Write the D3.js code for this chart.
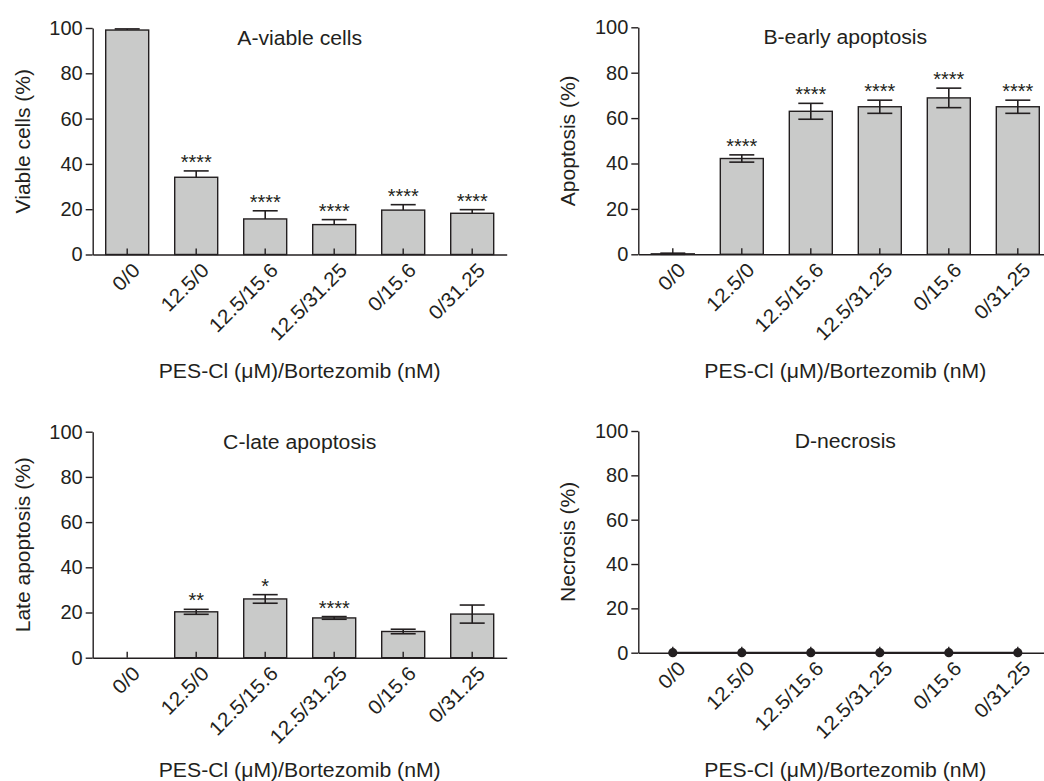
<!DOCTYPE html>
<html>
<head>
<meta charset="utf-8">
<script src="https://cdn.jsdelivr.net/npm/d3@7"></script>
<style>
  body { margin: 0; background: #fff; }
  text { font-family: "Liberation Sans", Arial, sans-serif; fill: #231f20; }
</style>
</head>
<body>
<div id="chart"></div>
<script>
// groups: PES-Cl (uM) / Bortezomib (nM)
const groups = ["0/0", "12.5/0", "12.5/15.6", "12.5/31.25", "0/15.6", "0/31.25"];
const yTicks = [0, 20, 40, 60, 80, 100];

const viableMean = [99.1, 34.1, 15.7, 13.2, 19.6, 18.2];
const viableSD = [0.5, 2.8, 3.6, 2.2, 2.4, 1.6];
const viableSig = ["", "****", "****", "****", "****", "****"];

const earlyMean = [0.2, 42.2, 63.0, 65.0, 68.9, 65.0];
const earlySD = [0.3, 1.6, 3.5, 2.9, 4.3, 2.9];
const earlySig = ["", "****", "****", "****", "****", "****"];

const lateMean = [0, 20.3, 26.0, 17.6, 11.6, 19.3];
const lateSD = [0, 1.1, 1.9, 0.6, 1.0, 4.0];
const lateSig = ["", "**", "*", "****", "", ""];

const necrosisMean = [0, 0, 0, 0, 0, 0];

const xTitle = "PES-Cl (μM)/Bortezomib (nM)";

const W = 1044, H = 781;
const ink = "#231f20";
const barFill = "#c9cac9";

const svg = d3.select("#chart").append("svg")
  .attr("width", W)
  .attr("height", H);

// panel layout (screen positions)
const panels = [
  { title: "A-viable cells", ylab: "Viable cells (%)", mean: viableMean, sd: viableSD, sig: viableSig,
    left: 92.7, top: 28, bottom: 254.5, xTitleY: 378, lowerErr: false, kind: "bar" },
  { title: "B-early apoptosis", ylab: "Apoptosis (%)", mean: earlyMean, sd: earlySD, sig: earlySig,
    left: 638.3, top: 27.3, bottom: 254.3, xTitleY: 378, lowerErr: true, kind: "bar" },
  { title: "C-late apoptosis", ylab: "Late apoptosis (%)", mean: lateMean, sd: lateSD, sig: lateSig,
    left: 92.7, top: 431.7, bottom: 657.7, xTitleY: 777, lowerErr: true, kind: "bar" },
  { title: "D-necrosis", ylab: "Necrosis (%)", mean: necrosisMean, sd: null, sig: null,
    left: 638.3, top: 431, bottom: 652.7, xTitleY: 777, lowerErr: false, kind: "dot" }
];

const plotW = 414;

panels.forEach(p => drawPanel(p));

// the original lettering is a bit wider than Arial, stretch labels slightly
function widen(sel, k) {
  sel.each(function() {
    const len = this.getComputedTextLength();
    d3.select(this).attr("textLength", len * k).attr("lengthAdjust", "spacingAndGlyphs");
  });
}

function drawPanel(p) {
  const x = d3.scaleBand()
    .domain(groups)
    .range([p.left, p.left + plotW])
    .paddingInner(0.377)
    .paddingOuter(0.1885);

  const y = d3.scaleLinear()
    .domain([0, 100])
    .range([p.bottom, p.top]);

  const g = svg.append("g");
  const rows = groups.map((k, i) => ({
    key: k, mean: p.mean[i], sd: p.sd ? p.sd[i] : 0, sig: p.sig ? p.sig[i] : ""
  }));

  if (p.kind === "bar") {
    g.selectAll(".bar")
      .data(rows.filter(d => d.mean > 0))
      .enter().append("rect")
      .attr("class", "bar")
      .attr("x", d => x(d.key))
      .attr("y", d => y(d.mean))
      .attr("width", x.bandwidth())
      .attr("height", d => y(0) - y(d.mean))
      .attr("fill", barFill)
      .attr("stroke", ink)
      .attr("stroke-width", 1.4);
  }

  // x axis, ticks pointing up into the plot
  const xAxis = g.append("g")
    .attr("transform", `translate(0,${p.bottom})`)
    .call(d3.axisBottom(x).tickSizeInner(-6).tickSizeOuter(0));
  xAxis.select(".domain").attr("stroke", ink).attr("stroke-width", 1.4);
  xAxis.selectAll(".tick line").attr("stroke", ink).attr("stroke-width", 1.4);
  xAxis.selectAll(".tick text")
    .attr("x", 0).attr("y", 0).attr("dy", 0)
    .attr("transform", "translate(14,17) rotate(-45)")
    .style("text-anchor", "end")
    .style("font-size", "20px")
    .attr("fill", ink)
    .call(widen, 1.05);

  // y axis
  const yAxis = g.append("g")
    .attr("transform", `translate(${p.left},0)`)
    .call(d3.axisLeft(y).tickValues(yTicks).tickSizeInner(7).tickSizeOuter(0).tickPadding(3));
  yAxis.select(".domain").attr("stroke", ink).attr("stroke-width", 1.4);
  yAxis.selectAll(".tick line").attr("stroke", ink).attr("stroke-width", 1.4);
  yAxis.selectAll(".tick text")
    .style("font-size", "20px")
    .attr("fill", ink);

  if (p.kind === "bar") {
    const cap = 12.5;
    const eb = g.selectAll(".err")
      .data(rows.filter(d => d.sd > 0))
      .enter().append("g")
      .attr("class", "err")
      .attr("stroke", ink)
      .attr("stroke-width", 1.6);
    const cx = d => x(d.key) + x.bandwidth() / 2;
    eb.append("line")
      .attr("x1", cx).attr("x2", cx)
      .attr("y1", d => y(p.lowerErr ? Math.max(d.mean - d.sd, 0) : d.mean))
      .attr("y2", d => y(d.mean + d.sd));
    eb.append("line")
      .attr("x1", d => cx(d) - cap).attr("x2", d => cx(d) + cap)
      .attr("y1", d => y(d.mean + d.sd)).attr("y2", d => y(d.mean + d.sd));
    if (p.lowerErr) {
      eb.append("line")
        .attr("x1", d => cx(d) - cap).attr("x2", d => cx(d) + cap)
        .attr("y1", d => y(Math.max(d.mean - d.sd, 0))).attr("y2", d => y(Math.max(d.mean - d.sd, 0)));
    }

    g.selectAll(".sig")
      .data(rows.filter(d => d.sig))
      .enter().append("text")
      .attr("class", "sig")
      .attr("x", cx)
      .attr("y", d => y(d.mean + d.sd) - 2)
      .attr("text-anchor", "middle")
      .style("font-size", "20px")
      .text(d => d.sig);
  } else {
    const cx = d => x(d.key) + x.bandwidth() / 2;
    g.append("path")
      .datum(rows)
      .attr("fill", "none")
      .attr("stroke", ink)
      .attr("stroke-width", 2)
      .attr("d", d3.line().x(cx).y(d => y(d.mean)));
    g.selectAll(".dot")
      .data(rows)
      .enter().append("circle")
      .attr("class", "dot")
      .attr("cx", cx)
      .attr("cy", d => y(d.mean))
      .attr("r", 4.6)
      .attr("fill", ink);
  }

  // panel title
  g.append("text")
    .attr("x", p.left + plotW / 2)
    .attr("y", p.top + 17)
    .attr("text-anchor", "middle")
    .style("font-size", "20px")
    .text(p.title)
    .call(widen, 1.06);

  // y label
  g.append("text")
    .attr("transform", `translate(${p.left - 63},${(p.top + p.bottom) / 2}) rotate(-90)`)
    .attr("text-anchor", "middle")
    .style("font-size", "20px")
    .text(p.ylab)
    .call(widen, 1.05);

  // x title
  g.append("text")
    .attr("x", p.left + plotW / 2)
    .attr("y", p.xTitleY)
    .attr("text-anchor", "middle")
    .style("font-size", "20px")
    .text(xTitle)
    .call(widen, 1.06);
}
</script>
</body>
</html>
